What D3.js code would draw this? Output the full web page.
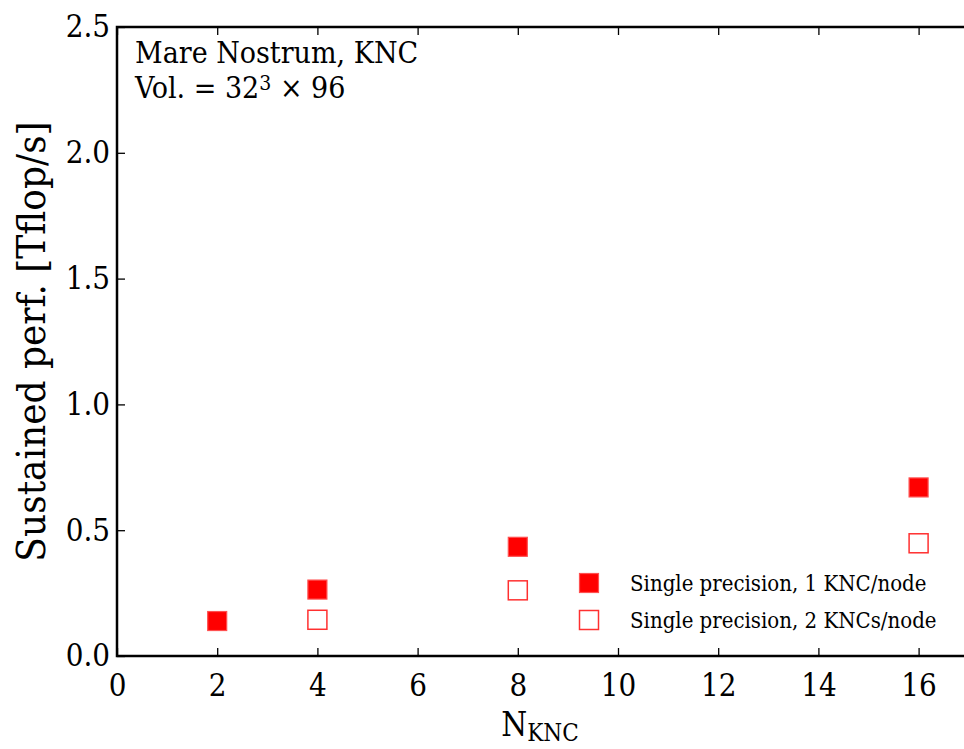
<!doctype html>
<head>
  <meta charset="utf-8">
  <script src="https://cdnjs.cloudflare.com/ajax/libs/d3/7.8.2/d3.min.js"></script>
</head>
<style>
    body { margin: 0; background: #fff; }
    svg { display: block; }
    text { font-family: "DejaVu Serif Condensed", "DejaVu Serif", serif; fill: #000; }
</style>
<body>
    <div id="chart"></div>
    <script>
        // datos
        const nKnc1 = [2, 4, 8, 16];
        const perf1 = [0.139, 0.264, 0.434, 0.670];
        const nKnc2 = [4, 8, 16];
        const perf2 = [0.144, 0.261, 0.448];
        const xTicks = [0, 2, 4, 6, 8, 10, 12, 14, 16];
        const yTicks = [0.0, 0.5, 1.0, 1.5, 2.0, 2.5];
        const seriesNames = ["Single precision, 1 KNC/node", "Single precision, 2 KNCs/node"];

        const width = 964, height = 749;
        const margin = {left: 117, top: 27, bottom: 93};

        const svg = d3.select('#chart').append('svg')
            .attr('width', width)
            .attr('height', height);

        const x = d3.scaleLinear().domain([0, 17]).range([margin.left, margin.left + 17 * 50.1]);
        const y = d3.scaleLinear().domain([0, 2.5]).range([height - margin.bottom, margin.top]);

        const x0 = x.range()[0], x1 = x.range()[1];
        const y0 = y.range()[0], y1 = y.range()[1];

        // ejes con ticks hacia dentro
        const xAxis = svg.append('g')
            .attr('transform', `translate(0,${y0})`)
            .call(d3.axisBottom(x).tickValues(xTicks).tickSizeInner(-8).tickSizeOuter(0).tickPadding(11).tickFormat(d3.format('d')));
        const xTop = svg.append('g')
            .attr('transform', `translate(0,${y1})`)
            .call(d3.axisTop(x).tickValues(xTicks).tickSizeInner(-8).tickSizeOuter(0).tickFormat(''));
        const yAxis = svg.append('g')
            .attr('transform', `translate(${x0},0)`)
            .call(d3.axisLeft(y).tickValues(yTicks).tickSizeInner(-8).tickSizeOuter(0).tickPadding(7).tickFormat(d3.format('.1f')));

        [xAxis, xTop, yAxis].forEach(g => {
            g.select('.domain').remove();
            g.selectAll('.tick line').attr('stroke', '#000').attr('stroke-width', 1.3);
            g.selectAll('.tick text').style('font-size', '31px').attr('fill', '#000');
        });
        xAxis.selectAll('.tick text').attr('dy', '0.95em');

        // marco
        svg.append('rect')
            .attr('x', x0).attr('y', y1)
            .attr('width', x1 - x0).attr('height', y0 - y1)
            .attr('fill', 'none').attr('stroke', '#000').attr('stroke-width', 2.5);

        // etiquetas de ejes
        svg.append('text')
            .attr('transform', `translate(45,${(y0 + y1) / 2}) rotate(-90)`)
            .attr('text-anchor', 'middle')
            .style('font-size', '40px')
            .text('Sustained perf. [Tflop/s]');

        const xl = svg.append('text')
            .attr('x', 540).attr('y', 736)
            .attr('text-anchor', 'middle')
            .style('font-size', '33px');
        xl.append('tspan').text('N');
        xl.append('tspan').attr('dy', 5).style('font-size', '24px').text('KNC');

        // anotacion
        const note = svg.append('g').attr('transform', 'translate(135,0)');
        note.append('text').attr('y', 63).style('font-size', '30px').text('Mare Nostrum, KNC');
        const vol = note.append('text').attr('y', 98).style('font-size', '30px');
        vol.append('tspan').text('Vol. = 32');
        vol.append('tspan').attr('dy', -8).style('font-size', '21px').text('3');
        vol.append('tspan').attr('dy', 8).text(' × 96');

        const ms = 19;
        // serie 1: cuadrados rellenos
        svg.selectAll('.s1').data(d3.zip(nKnc1, perf1)).enter().append('rect')
            .attr('x', d => x(d[0]) - ms / 2).attr('y', d => y(d[1]) - ms / 2)
            .attr('width', ms).attr('height', ms)
            .attr('fill', '#ff0000').attr('stroke', '#ff5050').attr('stroke-width', 1.2);
        // serie 2: cuadrados vacios
        svg.selectAll('.s2').data(d3.zip(nKnc2, perf2)).enter().append('rect')
            .attr('x', d => x(d[0]) - ms / 2).attr('y', d => y(d[1]) - ms / 2)
            .attr('width', ms).attr('height', ms)
            .attr('fill', '#fff').attr('stroke', '#ff3030').attr('stroke-width', 1.5);

        // leyenda
        const leg = svg.append('g').attr('transform', 'translate(589,583)');
        seriesNames.forEach((name, i) => {
            const row = leg.append('g').attr('transform', `translate(0,${i * 37})`);
            row.append('rect').attr('x', -ms / 2).attr('y', -ms / 2)
                .attr('width', ms).attr('height', ms)
                .attr('fill', i === 0 ? '#ff0000' : '#fff')
                .attr('stroke', i === 0 ? '#ff5050' : '#ff3030')
                .attr('stroke-width', i === 0 ? 1.2 : 1.5);
            row.append('text').attr('x', 41).attr('y', 8)
                .style('font-size', '22px').text(name);
        });
    </script>
</body>
